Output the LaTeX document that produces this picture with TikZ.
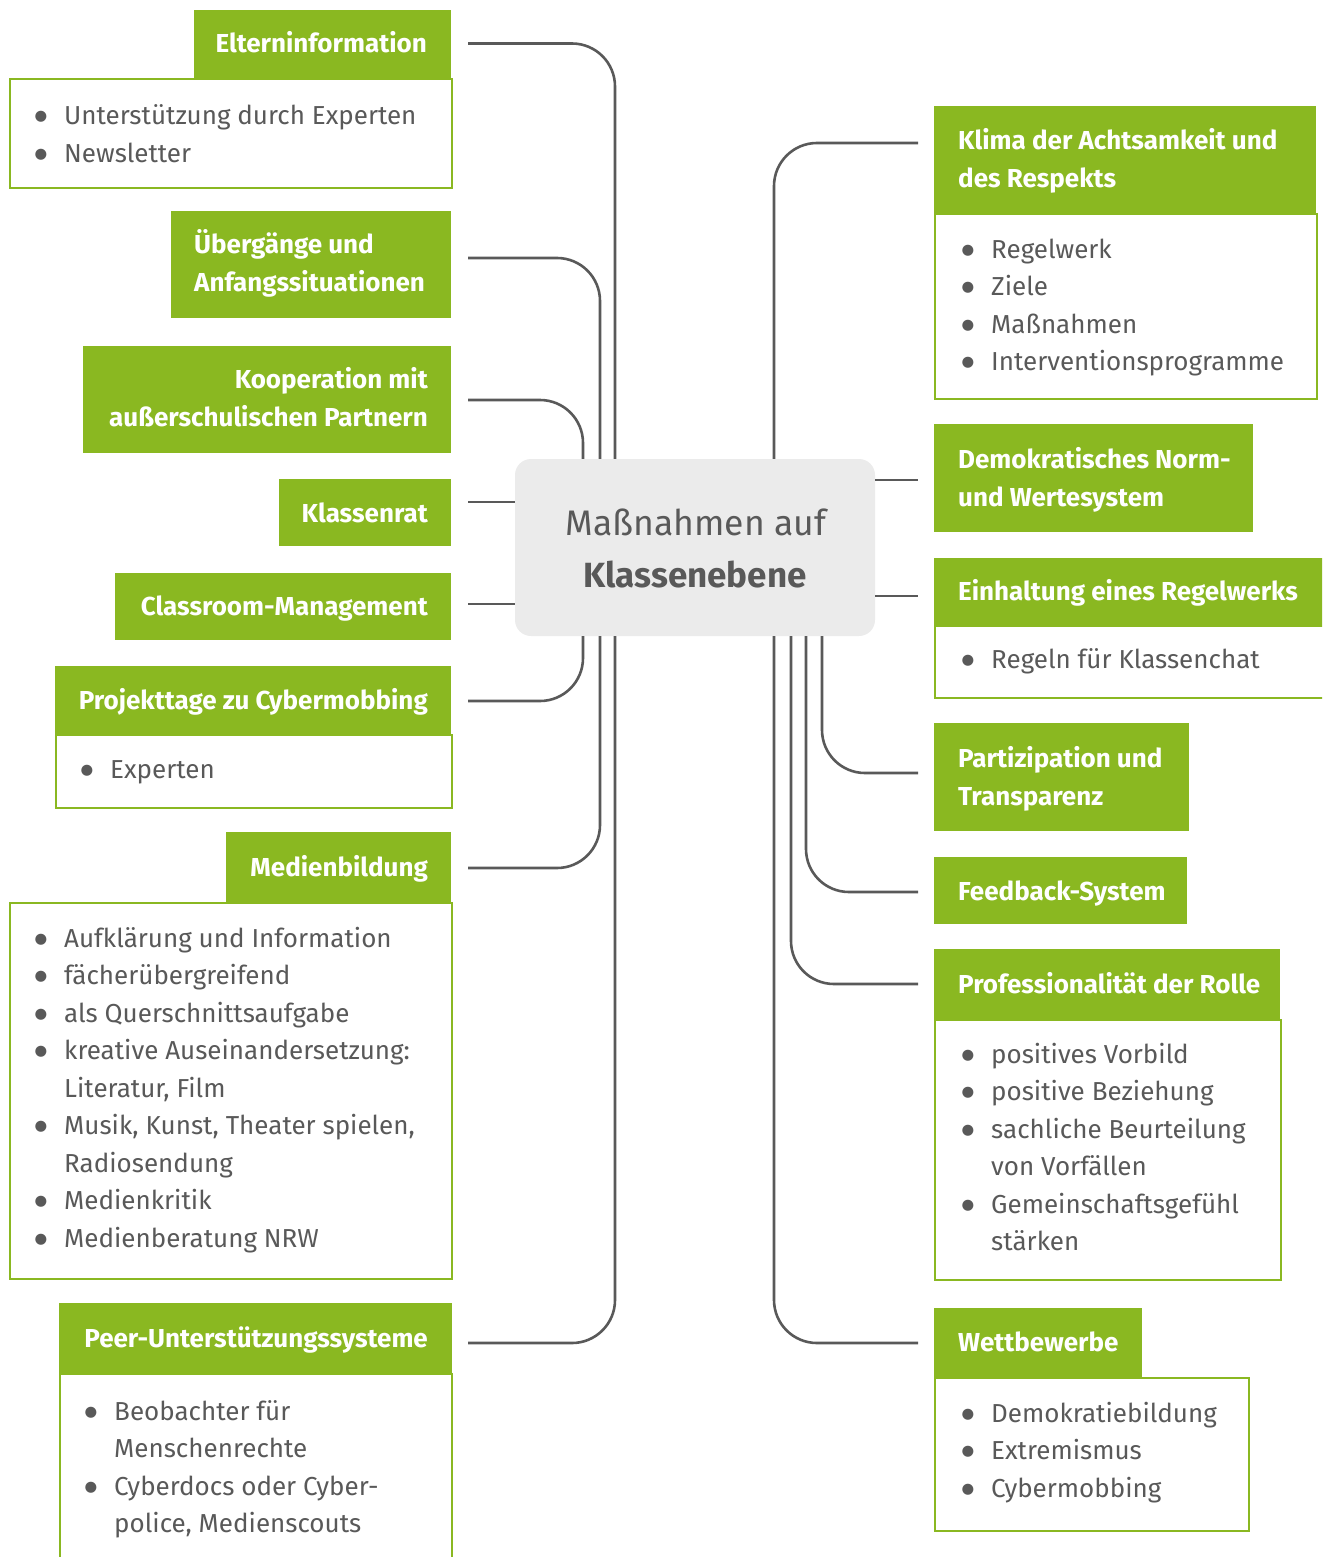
\documentclass[tikz,border=0pt]{standalone}
\usepackage{fontspec}
\setmainfont{Fira Sans}
\newfontfamily\symfont{DejaVu Sans}
\usetikzlibrary{calc}
\definecolor{leaf}{HTML}{8AB821}
\definecolor{ink}{HTML}{595959}
\definecolor{hub}{HTML}{EBEBEB}
% list bullet: a round dot hanging left of the item text
\newcommand\itm{\makebox[0pt][r]{{\symfont\fontsize{14.5}{14.5}\selectfont\raisebox{4pt}{●}}\hspace{17pt}}}
\newcommand\bodyfont{\fontsize{26}{37.5}\selectfont}
\newcommand\headfont{\fontsize{26}{38}\selectfont\bfseries}
\newcommand\lines[2]{\begin{tabular}[t]{@{}#1@{}}#2\end{tabular}}

\begin{document}
\begin{tikzpicture}[x=1pt,y=-1pt,
  head/.style={fill=leaf, draw=none, inner sep=0, anchor=north west},
  panel/.style={draw=leaf, line width=2.4pt, fill=white, inner sep=0, anchor=north west},
  htext/.style={text=white, inner sep=0, font=\headfont},
  btext/.style={text=ink, inner sep=0, font=\bodyfont, anchor=base west},
  conn/.style={draw=ink, line width=2.6pt, rounded corners=43pt},
]
\clip (0,0) rectangle (1322,1557);

% ---------- centre ----------
\node[fill=hub, rounded corners=16pt, minimum width=360pt, minimum height=177pt, inner sep=0] (ctr) at (695,547.5) {};

% ---------- left column: panels ----------
\node[panel, minimum width=442pt, minimum height=109pt] (elt-p) at (9,78) {};
\node[panel, minimum width=396pt, minimum height=73pt] (prj-p) at (55,734) {};
\node[panel, minimum width=442pt, minimum height=376pt] (med-p) at (9,902) {};
\node[panel, minimum width=392pt, minimum height=240pt] (peer-p) at (59,1373) {};

% ---------- left column: headings ----------
\node[head, minimum width=257pt, minimum height=68pt] (elt) at (194,10) {};
\node[head, minimum width=280pt, minimum height=107pt] (ueb) at (171,211) {};
\node[head, minimum width=368pt, minimum height=107pt] (koo) at (83,346) {};
\node[head, minimum width=172pt, minimum height=67pt] (kls) at (279,479) {};
\node[head, minimum width=336pt, minimum height=67pt] (cls) at (115,573) {};
\node[head, minimum width=396pt, minimum height=68pt] (prj) at (55,666) {};
\node[head, minimum width=225pt, minimum height=70pt] (med) at (226,832) {};
\node[head, minimum width=393pt, minimum height=70pt] (peer) at (59,1303) {};

% ---------- right column: panels ----------
\node[panel, minimum width=382pt, minimum height=185pt] (klm-p) at (934,213) {};
\node[panel, minimum width=420pt, minimum height=72pt] (einh-p) at (934,625) {};
\node[panel, minimum width=346pt, minimum height=260pt] (prof-p) at (934,1019) {};
\node[panel, minimum width=314pt, minimum height=153pt] (wett-p) at (934,1377) {};

% ---------- right column: headings ----------
\node[head, minimum width=382pt, minimum height=107pt] (klm) at (934,106) {};
\node[head, minimum width=319pt, minimum height=108pt] (dem) at (934,424) {};
\node[head, minimum width=400pt, minimum height=67pt] (einh) at (934,558) {};
\node[head, minimum width=255pt, minimum height=108pt] (part) at (934,723) {};
\node[head, minimum width=253pt, minimum height=67pt] (feed) at (934,857) {};
\node[head, minimum width=346pt, minimum height=70pt] (prof) at (934,949) {};
\node[head, minimum width=208pt, minimum height=69pt] (wett) at (934,1308) {};

% ---------- heading texts ----------
\node[htext, anchor=base east] (elt-h) at (427,53) {Elterninformation};
\node[htext, anchor=base west] (ueb-h) at (194,253) {\lines{l}{Übergänge und\\Anfangssituationen}};
\node[htext, anchor=base east] (koo-h) at (428,388) {\lines{r}{Kooperation mit\\außerschulischen Partnern}};
\node[htext, anchor=base east] (kls-h) at (428,522) {Klassenrat};
\node[htext, anchor=base east] (cls-h) at (428,615) {Classroom-Management};
\node[htext, anchor=base east] (prj-h) at (428,709) {Projekttage zu Cybermobbing};
\node[htext, anchor=base east] (med-h) at (428,876) {Medienbildung};
\node[htext, anchor=base east] (peer-h) at (428,1347) {Peer-Unterstützungssysteme};

\node[htext, anchor=base west] (klm-h) at (958,150) {\lines{l}{Klima der Achtsamkeit und\\des Respekts}};
\node[htext, anchor=base west] (dem-h) at (958,468) {\lines{l}{Demokratisches Norm-\\und Wertesystem}};
\node[htext, anchor=base west] (einh-h) at (958,600) {Einhaltung eines Regelwerks};
\node[htext, anchor=base west] (part-h) at (958,767) {\lines{l}{Partizipation und\\Transparenz}};
\node[htext, anchor=base west] (feed-h) at (958,900) {Feedback-System};
\node[htext, anchor=base west] (prof-h) at (958,993) {Professionalität der Rolle};
\node[htext, anchor=base west] (wett-h) at (958,1351) {Wettbewerbe};

% ---------- bullet lists ----------
\node[btext] (elt-t) at (64,125) {\lines{l}{\itm Unterstützung durch Experten\\\itm Newsletter}};
\node[btext] (prj-t) at (110,778) {\lines{l}{\itm Experten}};
\node[btext] (med-t) at (64,947) {\lines{l}{\itm Aufklärung und Information\\
  \itm fächerübergreifend\\
  \itm als Querschnittsaufgabe\\
  \itm kreative Auseinandersetzung:\\
  Literatur, Film\\
  \itm Musik, Kunst, Theater spielen,\\
  Radiosendung\\
  \itm Medienkritik\\
  \itm Medienberatung NRW}};
\node[btext] (peer-t) at (114,1420) {\lines{l}{\itm Beobachter für\\
  Menschenrechte\\
  \itm Cyberdocs oder Cyber-\\
  police, Medienscouts}};

\node[btext] (klm-t) at (991,258) {\lines{l}{\itm Regelwerk\\\itm Ziele\\\itm Maßnahmen\\\itm Interventionsprogramme}};
\node[btext] (einh-t) at (991,668) {\lines{l}{\itm Regeln für Klassenchat}};
\node[btext] (prof-t) at (991,1063) {\lines{l}{\itm positives Vorbild\\
  \itm positive Beziehung\\
  \itm sachliche Beurteilung\\
  von Vorfällen\\
  \itm Gemeinschaftsgefühl\\
  stärken}};
\node[btext] (wett-t) at (991,1422) {\lines{l}{\itm Demokratiebildung\\\itm Extremismus\\\itm Cybermobbing}};

% ---------- connector ends and trunk positions ----------
\coordinate (elt-c) at (468,43.5);
\coordinate (ueb-c) at (468,258);
\coordinate (koo-c) at (468,400);
\coordinate (kls-c) at (468,502);
\coordinate (cls-c) at (468,604);
\coordinate (prj-c) at (468,701);
\coordinate (med-c) at (468,868);
\coordinate (peer-c) at (468,1343);
\coordinate (klm-c) at (918,143);
\coordinate (dem-c) at (918,480);
\coordinate (einh-c) at (918,596);
\coordinate (part-c) at (918,773);
\coordinate (feed-c) at (918,892);
\coordinate (prof-c) at (918,984);
\coordinate (wett-c) at (918,1343);
\coordinate (trunk-a) at (615,0);
\coordinate (trunk-b) at (600,0);
\coordinate (trunk-c) at (583,0);
\coordinate (trunk-d) at (774,0);
\coordinate (trunk-e) at (791,0);
\coordinate (trunk-f) at (806,0);
\coordinate (trunk-g) at (822,0);

% ---------- connectors ----------
\draw[conn] (ctr.north -| trunk-a) |- (elt-c);
\draw[conn] (ctr.north -| trunk-b) |- (ueb-c);
\draw[conn] (ctr.north -| trunk-c) |- (koo-c);
\draw[conn] (ctr.west |- kls-c) -- (kls-c);
\draw[conn] (ctr.west |- cls-c) -- (cls-c);
\draw[conn] (ctr.south -| trunk-c) |- (prj-c);
\draw[conn] (ctr.south -| trunk-b) |- (med-c);
\draw[conn] (ctr.south -| trunk-a) |- (peer-c);

\draw[conn] (ctr.north -| trunk-d) |- (klm-c);
\draw[conn] (ctr.east |- dem-c) -- (dem-c);
\draw[conn] (ctr.east |- einh-c) -- (einh-c);
\draw[conn] (ctr.south -| trunk-g) |- (part-c);
\draw[conn] (ctr.south -| trunk-f) |- (feed-c);
\draw[conn] (ctr.south -| trunk-e) |- (prof-c);
\draw[conn] (ctr.south -| trunk-d) |- (wett-c);

% ---------- centre title ----------
\node[text=ink, inner sep=0, font=\fontsize{35.5}{52}\selectfont, anchor=base] (ctr-a) at (696,535) {Maßnahmen auf};
\node[text=ink, inner sep=0, font=\fontsize{35}{52}\selectfont\bfseries, anchor=base] (ctr-b) at (695,587) {Klassenebene};
\end{tikzpicture}
\end{document}
